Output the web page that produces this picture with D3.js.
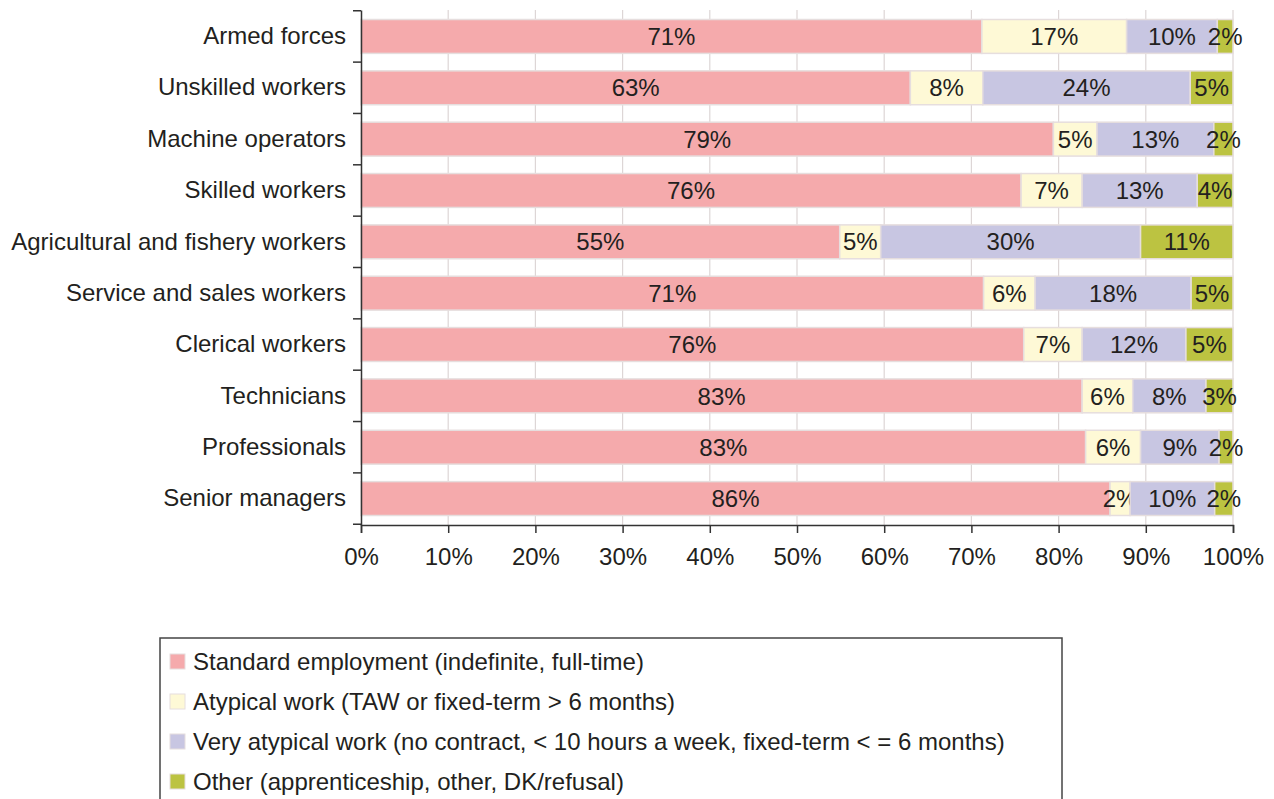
<!DOCTYPE html>
<html>
<head>
<meta charset="utf-8">
<script src="https://cdn.jsdelivr.net/npm/d3@7"></script>
<style>
  body { margin: 0; background: #fff; }
  text { font-family: "Liberation Sans", Arial, sans-serif; fill: #231f20; }
</style>
</head>
<body>
<svg id="chart" width="1274" height="799"></svg>
<script>
// Employment type by occupation, shares in percent (top to bottom)
const categories = [
    'Armed forces', 'Unskilled workers', 'Machine operators', 'Skilled workers',
    'Agricultural and fishery workers', 'Service and sales workers', 'Clerical workers',
    'Technicians', 'Professionals', 'Senior managers'
];
const standard    = [71.2, 63.0, 79.4, 75.7, 54.9, 71.4, 76.0, 82.7, 83.1, 85.9];
const atypical    = [16.6,  8.3,  5.0,  7.0,  4.7,  5.9,  6.7,  5.8,  6.3,  2.3];
const veryAtypical = [10.4, 23.8, 13.4, 13.2, 29.8, 17.9, 11.9,  8.4,  9.0,  9.7];
const other       = [ 1.8,  4.9,  2.2,  4.1, 10.6,  4.8,  5.4,  3.1,  1.6,  2.1];

const seriesNames = [
    'Standard employment (indefinite, full-time)',
    'Atypical work (TAW or fixed-term > 6 months)',
    'Very atypical work (no contract, < 10 hours a week, fixed-term < = 6 months)',
    'Other (apprenticeship, other, DK/refusal)'
];
const colors = ['#f5aaac', '#fef9d6', '#c8c6e2', '#bcc341'];
const xTicks = [0, 10, 20, 30, 40, 50, 60, 70, 80, 90, 100];

const svg = d3.select('#chart');
const margin = { top: 10, right: 41, left: 361, bottom: 274 };
const width = 1274 - margin.left - margin.right;
const height = 799 - margin.top - margin.bottom;
const g = svg.append('g').attr('transform', `translate(${margin.left},${margin.top})`);

const x = d3.scaleLinear().domain([0, 100]).range([0, width]);
const y = d3.scaleBand().domain(categories).range([0, height]).paddingInner(0.34).paddingOuter(0.185);

// gridlines
g.selectAll('.grid')
    .data(xTicks.slice(1))
    .enter()
    .append('line')
    .attr('x1', d => x(d)).attr('x2', d => x(d))
    .attr('y1', 0).attr('y2', height)
    .attr('stroke', '#ddd6d6').attr('stroke-width', 1.2);

const stackData = categories.map((c, i) => ({
    cat: c, s0: standard[i], s1: atypical[i], s2: veryAtypical[i], s3: other[i]
}));
const stack = d3.stack().keys(['s0', 's1', 's2', 's3'])(stackData);

const layers = g.selectAll('.layer')
    .data(stack)
    .enter()
    .append('g')
    .attr('fill', (d, i) => colors[i]);

layers.selectAll('rect')
    .data(d => d)
    .enter()
    .append('rect')
    .attr('x', d => x(d[0]))
    .attr('y', d => y(d.data.cat))
    .attr('width', d => x(d[1]) - x(d[0]))
    .attr('height', y.bandwidth())
    .attr('stroke', '#e6dede')
    .attr('stroke-width', 1.5);

layers.selectAll('text')
    .data(d => d)
    .enter()
    .append('text')
    .attr('x', d => x((d[0] + d[1]) / 2))
    .attr('y', d => y(d.data.cat) + y.bandwidth() / 2)
    .attr('dy', '0.36em')
    .attr('text-anchor', 'middle')
    .attr('font-size', '24px')
    .text(d => Math.round(d[1] - d[0]) + '%');

// y axis
const yAxis = g.append('g')
    .call(d3.axisLeft(y).tickSize(0).tickPadding(15));
yAxis.select('.domain').attr('stroke', '#333').attr('stroke-width', 1.5);
yAxis.selectAll('text').attr('font-size', '24px').attr('fill', '#231f20');
// category boundary ticks
const bandStart = y(categories[0]) - y.step() * y.paddingInner() / 2;
g.selectAll('.ytick')
    .data(d3.range(categories.length + 1))
    .enter()
    .append('line')
    .attr('x1', -8).attr('x2', 0)
    .attr('y1', i => Math.min(height, Math.max(0, bandStart + i * y.step())))
    .attr('y2', i => Math.min(height, Math.max(0, bandStart + i * y.step())))
    .attr('stroke', '#333').attr('stroke-width', 1.5);

// x axis
const xAxis = g.append('g')
    .attr('transform', `translate(0,${height})`)
    .call(d3.axisBottom(x).tickValues(xTicks).tickFormat(d => d + '%').tickSizeOuter(0).tickSize(8).tickPadding(15));
xAxis.select('.domain').attr('stroke', '#333').attr('stroke-width', 1.5);
xAxis.selectAll('line').attr('stroke', '#333').attr('stroke-width', 1.5);
xAxis.selectAll('text').attr('font-size', '24px').attr('fill', '#231f20');

// legend
const legend = svg.append('g').attr('transform', 'translate(160,638)');
legend.append('rect')
    .attr('width', 902).attr('height', 175)
    .attr('fill', 'none').attr('stroke', '#444').attr('stroke-width', 1.5);
const items = legend.selectAll('.item')
    .data(seriesNames)
    .enter()
    .append('g')
    .attr('transform', (d, i) => `translate(10,${23 + i * 40})`);
items.append('rect')
    .attr('x', 0).attr('y', -7)
    .attr('width', 15).attr('height', 15)
    .attr('fill', (d, i) => colors[i])
    .attr('stroke', '#e6dede');
items.append('text')
    .attr('x', 23).attr('dy', '0.36em')
    .attr('font-size', '24px')
    .text(d => d);
</script>
</body>
</html>
